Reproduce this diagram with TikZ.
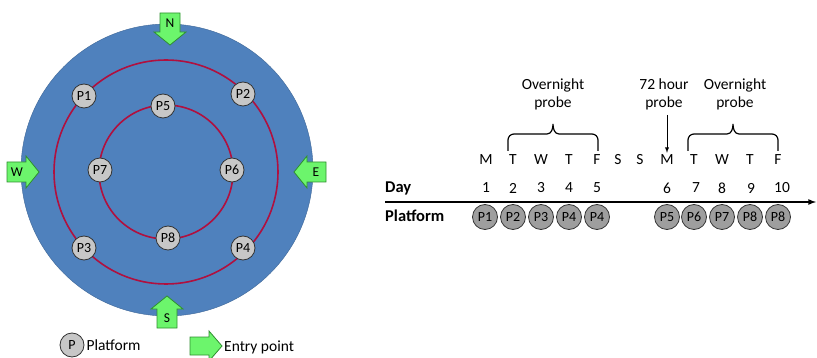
\documentclass[tikz,border=0pt]{standalone}
\usepackage{fontspec}
\setmainfont{Carlito}
\usetikzlibrary{positioning}
\definecolor{pool}{HTML}{4F81BD}
\definecolor{ring}{HTML}{B0103F}
\definecolor{entrygreen}{HTML}{6CF56C}
\definecolor{entryedge}{HTML}{2F8F2F}
\tikzset{
  plat/.style={circle, draw=black!80, fill=black!22, line width=0.8pt, minimum size=24pt, inner sep=0pt, font=\fontsize{14}{14}\selectfont},
  slot/.style={plat, fill=black!38, minimum size=25pt},
  entry/.style={draw=entryedge, fill=entrygreen, line width=0.8pt},
  lbl/.style={font=\fontsize{15.5}{18}\selectfont, inner sep=1pt},
  head/.style={lbl, anchor=west, font=\fontsize{16.5}{18}\selectfont\bfseries},
}
\begin{document}
\begin{tikzpicture}[x=1pt, y=-1pt, >=latex]
\useasboundingbox (0,0) rectangle (817,358);
% pool with rings
\draw[pool!80!black, fill=pool] (167,170) circle (146);
\draw[ring, line width=1.6pt] (166,172) circle (112);
\draw[ring, line width=1.6pt] (166,172) circle (67);
\node[plat] (p1) at (84,96) {P1};
\node[plat] (p2) at (243,94) {P2};
\node[plat] (p3) at (84,248) {P3};
\node[plat] (p4) at (243,248) {P4};
\node[plat] (p5) at (163,106) {P5};
\node[plat] (p6) at (232,170) {P6};
\node[plat] (p7) at (100,170) {P7};
\node[plat] (p8) at (168,238) {P8};
% entry points
\foreach \cx/\cy/\ang/\lab in {170/29/-90/N, 23/172/0/W, 310/172/180/E, 167/312/90/S}
  \draw[entry, shift={(\cx,\cy)}, rotate=\ang] (-16,-10) -- (3,-10) -- (3,-16) -- (16,0) -- (3,16) -- (3,10) -- (-16,10) -- cycle
    (-6,0) node[lbl, font=\fontsize{13.5}{14}\selectfont] (entry\lab) {\lab};
% legend
\node[plat] (legp) at (72,345) {P};
\node[lbl, right=1pt of legp] (legpl) {Platform};
\draw[entry, shift={(206,346)}] (-16,-9) -- (3,-9) -- (3,-15) -- (16,0) -- (3,15) -- (3,9) -- (-16,9) -- cycle;
\node[lbl, anchor=west] (legen) at (223,347) {Entry point};
% timeline
\node[head] (day) at (384,188) {Day};
\node[head] (plat) at (384,216) {Platform};
\coordinate (axis0) at (385,202);
\coordinate (axis1) at (816,202);
\draw[->, line width=1.6pt] (axis0) -- (axis1);
\foreach \n/\x in {1/486, 2/513, 3/541, 4/569, 5/597, 6/667, 7/696, 8/722, 9/751, 10/782}
  \node[lbl] (d\n) at (\x,188) {\n};
\foreach \l/\x [count=\i] in {M/486, T/513, W/541, T/569, F/597, S/618, S/640, M/667, T/694, W/722, T/750, F/778}
  \node[lbl] (w\i) at (\x,160) {\l};
\foreach \p/\x [count=\i] in {P1/485, P2/513, P3/541, P4/569, P4/597, P5/667, P6/694, P7/722, P8/750, P8/778}
  \node[slot] (s\i) at (\x,217) {\p};
% probes
\node[lbl, align=center] (night1) at (553,94) {Overnight\\probe};
\node[lbl, align=center] (hour72) at (664,94) {72 hour\\probe};
\node[lbl, align=center] (night2) at (735,94) {Overnight\\probe};
\draw[->, line width=0.9pt, shorten <=4pt, shorten >=1pt] (w8.north |- hour72.south) -- (w8.north);
\foreach \l/\m/\r in {508/553/598, 688/733/778}
  \draw[line width=1.2pt] (\l,151) -- (\l,140) to[out=90,in=180] (\l+6,134) -- (\m-6,134)
    to[out=0,in=-90] (\m,124) to[out=-90,in=180] (\m+6,134) -- (\r-6,134)
    to[out=0,in=90] (\r,140) -- (\r,151);
\end{tikzpicture}
\end{document}
